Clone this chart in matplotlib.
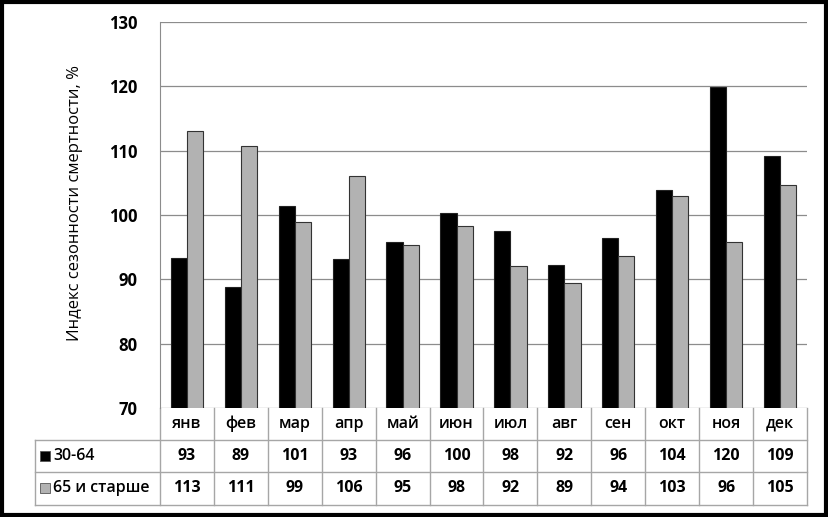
import numpy as np
import matplotlib.pyplot as plt
from matplotlib.patches import Rectangle
from matplotlib.transforms import blended_transform_factory

OUTPUT_PATH = "out.png"

MONTHS = ["янв", "фев", "мар", "апр", "май", "июн", "июл", "авг", "сен", "окт", "ноя", "дек"]
AGE_30_64 = [93.3, 88.8, 101.4, 93.2, 95.8, 100.3, 97.5, 92.2, 96.4, 103.9, 119.9, 109.2]
AGE_65_PLUS = [113.1, 110.7, 98.9, 106.0, 95.4, 98.3, 92.1, 89.4, 93.6, 103.0, 95.8, 104.7]
SERIES_NAMES = ["30-64", "65 и старше"]
Y_LABEL = "Индекс сезонности смертности, %"

plt.rcParams['font.family'] = ['Open Sans', 'DejaVu Sans']


def plot():
    fig = plt.figure(figsize=(8.29, 5.17), dpi=100)
    W, H = 829, 517
    ax = fig.add_axes([160 / W, 1 - 408 / H, (807 - 160) / W, (408 - 22) / H])

    x = np.arange(len(MONTHS))
    w = 0.3
    colors = ["#000000", "#b2b2b2"]
    ax.bar(x - w / 2, AGE_30_64, w, color=colors[0], edgecolor="#222222", linewidth=0.8, zorder=3)
    ax.bar(x + w / 2, AGE_65_PLUS, w, color=colors[1], edgecolor="#333333", linewidth=0.8, zorder=3)

    ax.set_xlim(-0.5, len(MONTHS) - 0.5)
    ax.set_ylim(70, 130)
    ax.set_yticks(range(70, 131, 10))
    ax.yaxis.grid(True, color="#8c8c8c", linewidth=0.9, zorder=0)
    ax.set_xticks([])
    ax.tick_params(axis="y", length=0, pad=16, labelsize=12)
    for lbl in ax.get_yticklabels():
        lbl.set_fontweight("bold")
    for s in ["top", "right", "bottom"]:
        ax.spines[s].set_visible(False)
    ax.spines["left"].set_color("#8c8c8c")
    fig.text(75 / W, 1 - 203 / H, Y_LABEL, rotation=90, ha="center", va="center", fontsize=12)

    # data table under the plot
    tr = blended_transform_factory(ax.transData, fig.transFigure)
    def fy(py):
        return 1 - py / H
    grid_c = "#a6a6a6"
    left_x = -0.5 - (160 - 35) / 53.9
    for py in [440, 472, 505]:
        ax.plot([left_x, len(MONTHS) - 0.5], [fy(py)] * 2, color=grid_c, lw=1, transform=tr, clip_on=False)
    for i in range(len(MONTHS) + 1):
        ax.plot([i - 0.5] * 2, [fy(408), fy(505)], color=grid_c, lw=1, transform=tr, clip_on=False)
    ax.plot([left_x] * 2, [fy(440), fy(505)], color=grid_c, lw=1, transform=tr, clip_on=False)

    for i, m in enumerate(MONTHS):
        ax.text(i, fy(424), m, ha="center", va="center", fontsize=11.5, fontweight="semibold", transform=tr)
        ax.text(i, fy(456), f"{AGE_30_64[i]:.0f}", ha="center", va="center", fontsize=11.5, fontweight="bold", transform=tr)
        ax.text(i, fy(488), f"{AGE_65_PLUS[i]:.0f}", ha="center", va="center", fontsize=11.5, fontweight="bold", transform=tr)

    for k, (name, py) in enumerate(zip(SERIES_NAMES, [456, 488])):
        fig.patches.append(Rectangle((40 / W, fy(py + 5)), 10 / W, 10 / H, transform=fig.transFigure,
                                     facecolor=colors[k], edgecolor="#555555", lw=0.6))
        fig.text(53 / W, fy(py), name, ha="left", va="center", fontsize=11.5, fontweight="semibold")

    # outer frame
    fig.patches.append(Rectangle((0.002, 0.003), 0.994, 0.994, transform=fig.transFigure,
                                 fill=False, edgecolor="black", lw=3))

    fig.savefig(OUTPUT_PATH, dpi=100)


plot()
